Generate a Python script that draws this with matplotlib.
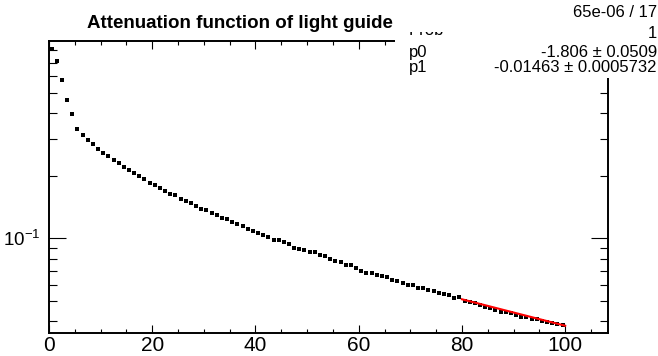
import numpy as np
import matplotlib
matplotlib.use("Agg")
import matplotlib.pyplot as plt
from matplotlib.patches import Rectangle
from matplotlib.ticker import NullFormatter

plt.rcParams['font.family'] = ['Liberation Sans', 'DejaVu Sans']
plt.rcParams['mathtext.fontset'] = 'custom'
plt.rcParams['mathtext.rm'] = 'Liberation Sans'
plt.rcParams['mathtext.it'] = 'Liberation Sans:italic'
plt.rcParams['mathtext.bf'] = 'Liberation Sans:bold'

# pontos do grafico (centro dos bins)
posicoes = np.arange(100) + 0.5
atenuacao = [
    0.810, 0.714, 0.575, 0.461, 0.397, 0.334, 0.314, 0.298, 0.283, 0.269,
    0.257, 0.248, 0.239, 0.229, 0.220, 0.212, 0.205, 0.1993, 0.1921, 0.1851,
    0.1798, 0.1745, 0.1683, 0.1633, 0.1610, 0.1550, 0.1506, 0.1473, 0.1425, 0.1388,
    0.1368, 0.1328, 0.1294, 0.1252, 0.1238, 0.1198, 0.1172, 0.1146, 0.1108, 0.1088,
    0.1064, 0.1034, 0.1011, 0.0985, 0.0978, 0.0960, 0.0939, 0.0901, 0.0891, 0.0878,
    0.0862, 0.0862, 0.0836, 0.0822, 0.0795, 0.0775, 0.0769, 0.0747, 0.0742, 0.0718,
    0.0694, 0.0681, 0.0679, 0.0666, 0.0659, 0.0649, 0.0632, 0.0625, 0.0612, 0.0598,
    0.0594, 0.0579, 0.0577, 0.0564, 0.0556, 0.0544, 0.0538, 0.0534, 0.0518, 0.0520,
    0.0501, 0.0494, 0.0487, 0.0480, 0.0470, 0.0462, 0.0452, 0.0444, 0.0441, 0.0436,
    0.0428, 0.0420, 0.0417, 0.0411, 0.0408, 0.0400, 0.0395, 0.0390, 0.0387, 0.0383,
]

# parametros do ajuste exponencial
p0 = -1.806
p1 = -0.01463
ajuste_x = np.linspace(80, 100, 60)
ajuste_y = np.exp(p0 + p1 * ajuste_x)

fig = plt.figure(figsize=(6.58, 3.56), dpi=100)
ax = fig.add_axes([49 / 658, 23 / 356, 559 / 658, 292 / 356])
ax.plot(posicoes, atenuacao, 's', color='black', ms=2.2, mew=0)
ax.plot(ajuste_x, ajuste_y, color='red', lw=1.5)

ax.set_yscale('log')
ax.set_xlim(0, 108.3)
ax.set_ylim(0.0351, 0.888)
ax.set_xticks([0, 20, 40, 60, 80, 100])
ax.set_xticks(np.arange(0, 108, 5), minor=True)
ax.set_yticks([0.1])
ax.set_yticklabels(['$10^{-1}$'])
ax.set_yticks([0.04, 0.05, 0.06, 0.07, 0.08, 0.09, 0.2, 0.3, 0.4, 0.5, 0.6, 0.7, 0.8], minor=True)
ax.yaxis.set_minor_formatter(NullFormatter())

ax.tick_params(axis='both', which='both', direction='in', top=True, right=True, width=0.8)
ax.tick_params(axis='x', which='major', length=6, labelsize=15, pad=2.5)
ax.tick_params(axis='x', which='minor', length=3)
ax.tick_params(axis='y', which='major', length=12, labelsize=13.5, pad=6)
ax.tick_params(axis='y', which='minor', length=6)
for lado in ax.spines.values():
    lado.set_linewidth(1.4)

# caixa de estatisticas
fs = 12
fig.add_artist(Rectangle((395 / 658, 1 - 78 / 356), 263 / 658, 78 / 356,
                         transform=fig.transFigure, facecolor='white', edgecolor='none', zorder=2))
fig.text(657 / 658, 1 - 17 / 356, '65e-06 / 17', ha='right', va='baseline', fontsize=fs, zorder=3)
fig.text(409 / 658, 1 - 35 / 356, 'Prob', ha='left', va='baseline', fontsize=fs, zorder=3)
fig.text(657 / 658, 1 - 38 / 356, '1', ha='right', va='baseline', fontsize=fs, zorder=3)
fig.text(409 / 658, 1 - 57 / 356, 'p0', ha='left', va='baseline', fontsize=fs, zorder=3)
fig.text(657 / 658, 1 - 57 / 356, '-1.806 ± 0.0509', ha='right', va='baseline', fontsize=fs, zorder=3)
fig.text(409 / 658, 1 - 72 / 356, 'p1', ha='left', va='baseline', fontsize=fs, zorder=3)
fig.text(657 / 658, 1 - 72 / 356, '-0.01463 ± 0.0005732', ha='right', va='baseline', fontsize=fs, zorder=3)

# titulo por cima
fig.add_artist(Rectangle((85 / 658, 1 - 32 / 356), 478 / 658, 32 / 356,
                         transform=fig.transFigure, facecolor='white', edgecolor='none', zorder=4))
fig.text(239.5 / 658, 1 - 28 / 356, 'Attenuation function of light guide', ha='center', va='baseline',
         fontsize=13.5, fontweight='bold', zorder=5)

fig.savefig('out.png', dpi=100)
